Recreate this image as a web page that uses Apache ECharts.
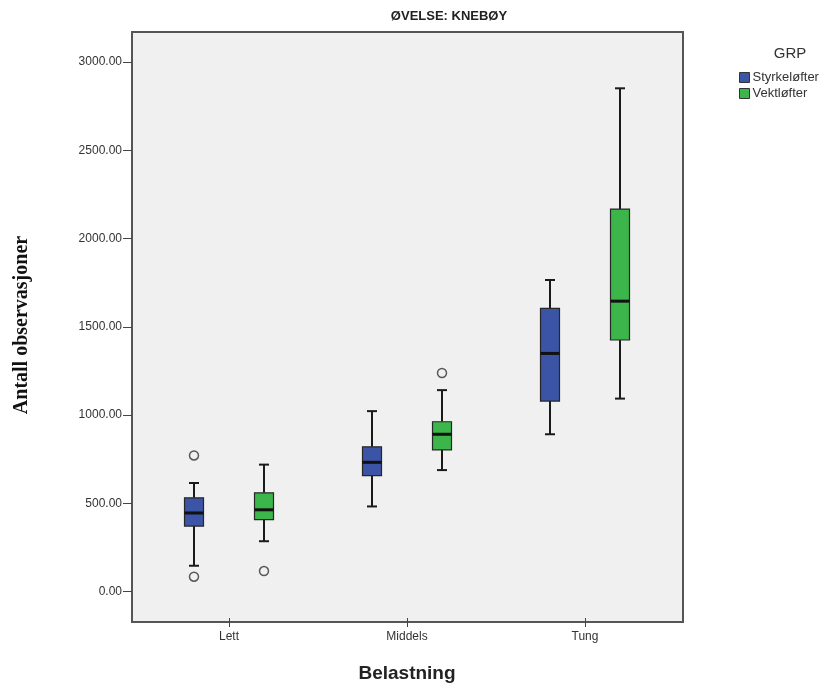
<!DOCTYPE html>
<html>
<head>
<meta charset="utf-8">
<script src="https://cdn.jsdelivr.net/npm/echarts@6/dist/echarts.min.js"></script>
<style>
  html, body { margin: 0; padding: 0; background: #ffffff; }
  #chart { width: 838px; height: 688px; }
</style>
</head>
<body>
<div id="chart"></div>
<script>
// Load levels on the x axis
const categories = ['Lett', 'Middels', 'Tung'];

// Five-number summaries per load level: [min, Q1, median, Q3, max]
const styrkeloefter = [
  [146, 371, 445, 531, 615],
  [482, 657, 732, 820, 1022],
  [891, 1079, 1349, 1604, 1765]
];
const vektloefter = [
  [285, 407, 463, 559, 719],
  [688, 803, 891, 962, 1141],
  [1093, 1425, 1645, 2167, 2851]
];

// Outliers: [category index, value]
const styrkeOutliers = [[0, 771], [0, 84]];
const vektOutliers = [[1, 1238], [0, 116]];

// Y axis ticks
const yTicks = [0, 500, 1000, 1500, 2000, 2500, 3000];

const seriesNames = ['Styrkeløfter', 'Vektløfter'];
const colors = ['#3b54a6', '#3cb54a'];
const boxOffset = [-35, 35];
const boxHalf = 9.5;
const capHalf = 5;

function boxData(stats) {
  return stats.map((s, i) => [i].concat(s));
}

function makeRenderer(offset, color) {
  return function (params, api) {
    const cx = api.coord([api.value(0), 0])[0] + offset;
    const yMin = api.coord([api.value(0), api.value(1)])[1];
    const yQ1 = api.coord([api.value(0), api.value(2)])[1];
    const yMed = api.coord([api.value(0), api.value(3)])[1];
    const yQ3 = api.coord([api.value(0), api.value(4)])[1];
    const yMax = api.coord([api.value(0), api.value(5)])[1];
    const lineStyle = { stroke: '#1a1a1a', lineWidth: 2 };
    return {
      type: 'group',
      children: [
        { type: 'line', shape: { x1: cx, y1: yQ3, x2: cx, y2: yMax }, style: lineStyle },
        { type: 'line', shape: { x1: cx, y1: yQ1, x2: cx, y2: yMin }, style: lineStyle },
        { type: 'line', shape: { x1: cx - capHalf, y1: yMax, x2: cx + capHalf, y2: yMax }, style: lineStyle },
        { type: 'line', shape: { x1: cx - capHalf, y1: yMin, x2: cx + capHalf, y2: yMin }, style: lineStyle },
        {
          type: 'rect',
          shape: { x: cx - boxHalf, y: yQ3, width: boxHalf * 2, height: yQ1 - yQ3 },
          style: { fill: color, stroke: '#262626', lineWidth: 1.2 }
        },
        { type: 'line', shape: { x1: cx - boxHalf, y1: yMed, x2: cx + boxHalf, y2: yMed }, style: { stroke: '#111', lineWidth: 3 } }
      ]
    };
  };
}

const chart = echarts.init(document.getElementById('chart'));

chart.setOption({
  backgroundColor: '#ffffff',
  animation: false,
  title: [
    {
      text: 'ØVELSE: KNEBØY',
      left: 444,
      top: 5,
      textAlign: 'center',
      textStyle: { fontFamily: 'Liberation Sans Narrow, Liberation Sans, Arial', fontWeight: 'bold', fontSize: 13, color: '#222' }
    },
    {
      text: 'GRP',
      left: 785,
      top: 41,
      textAlign: 'center',
      textStyle: { fontFamily: 'Liberation Sans, Arial', fontWeight: 'normal', fontSize: 15, color: '#333' }
    }
  ],
  legend: {
    orient: 'vertical',
    left: 734,
    top: 66,
    itemWidth: 10,
    itemHeight: 10,
    itemGap: 3,
    icon: 'rect',
    textStyle: { fontFamily: 'Liberation Sans, Arial', fontSize: 13, color: '#333', padding: [0, 0, 0, -2] },
    data: seriesNames.map(n => ({ name: n, itemStyle: { borderColor: '#333', borderWidth: 1 } }))
  },
  graphic: [
    {
      type: 'rect',
      z: -10,
      shape: { x: 132, y: 32, width: 551, height: 590 },
      style: { fill: '#f0f0f0', stroke: '#555', lineWidth: 2 }
    }
  ],
  grid: { left: 140, right: 164, top: 32, bottom: 66 },
  xAxis: {
    type: 'category',
    data: categories,
    boundaryGap: true,
    name: 'Belastning',
    nameLocation: 'middle',
    nameGap: 46,
    nameTextStyle: { fontFamily: 'Liberation Sans, Arial', fontWeight: 'bold', fontSize: 19, color: '#222' },
    axisLine: { show: false, onZero: false },
    axisTick: { show: true, alignWithLabel: true, length: 9, lineStyle: { color: '#444', width: 1 } },
    axisLabel: { fontFamily: 'Liberation Sans, Arial', fontSize: 12, color: '#333', margin: 13 },
    splitLine: { show: false }
  },
  yAxis: {
    type: 'value',
    min: -150,
    max: 3170,
    offset: 8,
    name: 'Antall observasjoner',
    nameLocation: 'middle',
    nameRotate: 90,
    nameGap: 100,
    nameTextStyle: { fontFamily: 'Liberation Serif, Times New Roman, serif', fontWeight: 'bold', fontSize: 20, color: '#111' },
    axisLine: { show: false },
    axisTick: { show: true, length: 9, customValues: yTicks, lineStyle: { color: '#444', width: 1 } },
    axisLabel: {
      customValues: yTicks,
      formatter: v => v.toFixed(2),
      fontFamily: 'Liberation Sans, Arial',
      fontSize: 12,
      color: '#333',
      margin: 10
    },
    splitLine: { show: false }
  },
  series: [
    {
      name: seriesNames[0],
      type: 'custom',
      itemStyle: { color: colors[0] },
      renderItem: makeRenderer(boxOffset[0], colors[0]),
      encode: { x: 0, y: [1, 2, 3, 4, 5] },
      data: boxData(styrkeloefter),
      z: 3
    },
    {
      name: seriesNames[1],
      type: 'custom',
      itemStyle: { color: colors[1] },
      renderItem: makeRenderer(boxOffset[1], colors[1]),
      encode: { x: 0, y: [1, 2, 3, 4, 5] },
      data: boxData(vektloefter),
      z: 3
    },
    {
      name: seriesNames[0],
      type: 'scatter',
      symbol: 'circle',
      symbolSize: 9,
      symbolOffset: [boxOffset[0], 0],
      itemStyle: { color: '#f0f0f0', borderColor: '#333', borderWidth: 1.5 },
      data: styrkeOutliers,
      z: 4
    },
    {
      name: seriesNames[1],
      type: 'scatter',
      symbol: 'circle',
      symbolSize: 9,
      symbolOffset: [boxOffset[1], 0],
      itemStyle: { color: '#f0f0f0', borderColor: '#333', borderWidth: 1.5 },
      data: vektOutliers,
      z: 4
    }
  ]
});
</script>
</body>
</html>
